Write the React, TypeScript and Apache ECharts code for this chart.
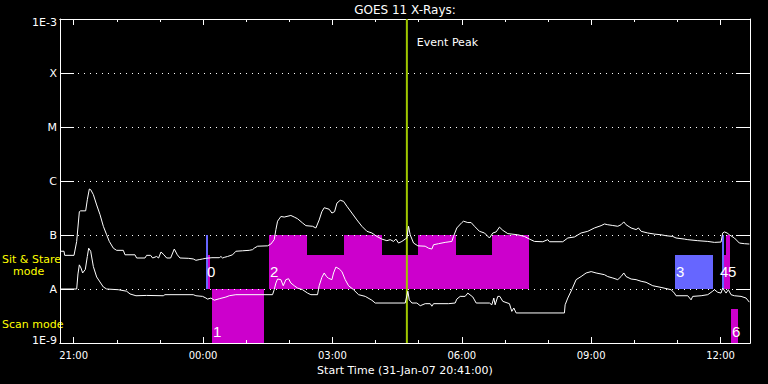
import React, { useEffect, useRef } from 'react';
import * as echarts from 'echarts';

// ---- time base: minutes since 31-Jan-07 20:41:00 ----
const START_CLOCK_MIN = 20 * 60 + 41;
const RANGE_MIN = 960;

// GOES 11 long channel (1-8 A): times (min) and flux (W/m^2)
const longT = [
  0, 5.6, 6.5, 19.5, 23.2, 26.9, 28.7, 35.7, 38.0, 40.8, 42.7, 46.4, 51.0, 55.6, 60.3, 64.9, 68.6, 74.2, 78.8, 88.1,
  90.4, 104.3, 106.6, 118.2, 120.5, 126.1, 128.9, 134.4, 137.2, 140.5, 144.6, 148.4, 153.9, 159.0, 163.2, 166.9, 178.5, 185.4,
  189.1, 193.7, 198.4, 203.0, 211.4, 221.6, 223.9, 226.2, 228.5, 233.1, 240.1, 244.7, 254.0, 263.3, 267.9, 270.2, 274.9,
  288.8, 293.4, 298.0, 300.4, 302.7, 307.3, 312.0, 321.2, 325.9, 330.5, 337.5, 342.1, 351.4, 356.0, 360.6, 364.3, 367.6, 374.5,
  378.3, 382.0, 385.3, 389.9, 394.5, 399.2, 406.1, 413.1, 420.0, 427.0, 433.9, 440.9, 447.8, 454.8, 459.4, 464.1, 467.3,
  471.0, 475.7, 480.3, 482.6, 484.9, 487.2, 491.9, 497.9, 508.1, 512.7, 517.4, 519.7, 526.6, 535.9, 545.2, 547.5, 552.1,
  559.1, 561.4, 567.4, 572.0, 576.7, 583.6, 590.6, 597.5, 602.2, 606.8, 611.4, 616.1, 623.0, 636.9, 646.2, 653.2, 660.1,
  671.7, 678.7, 681.0, 699.5, 706.5, 715.8, 725.0, 734.3, 743.6, 752.8, 757.5, 762.1, 769.1, 776.0, 780.6, 784.4, 787.6,
  794.6, 801.5, 804.8, 808.5, 817.7, 827.0, 836.3, 843.2, 852.5, 857.1, 868.7, 873.4, 887.3, 901.2, 910.5, 919.7, 922.0,
  924.4, 928.1, 931.3, 938.3, 945.2, 952.2, 959.1,
];
const longF = [
  5.0e-8, 5.0e-8, 4.2e-8, 4.2e-8, 7.6e-8, 2.7e-7, 2.8e-7, 2.8e-7, 4.5e-7, 7.1e-7, 6.9e-7, 5.6e-7, 3.6e-7, 2.4e-7, 1.45e-7, 1.01e-7, 7.6e-8, 5.7e-8, 5.2e-8, 5.2e-8,
  4.3e-8, 4.3e-8, 3.75e-8, 3.75e-8, 4.2e-8, 4.2e-8, 3.75e-8, 4.0e-8, 3.75e-8, 4.85e-8, 4.3e-8, 3.75e-8, 3.75e-8, 5.5e-8, 4.3e-8, 3.75e-8, 3.7e-8, 3.6e-8,
  3.4e-8, 3.5e-8, 3.6e-8, 3.7e-8, 3.8e-8, 3.8e-8, 4.0e-8, 3.75e-8, 3.85e-8, 4.0e-8, 4.3e-8, 5.0e-8, 5.1e-8, 5.2e-8, 5.35e-8, 5.7e-8, 6.2e-8,
  6.3e-8, 6.8e-8, 8.2e-8, 1.26e-7, 1.8e-7, 2.2e-7, 2.15e-7, 2.3e-7, 2.15e-7, 2.0e-7, 1.67e-7, 1.49e-7, 1.45e-7, 1.35e-7, 1.9e-7, 2.7e-7, 3.2e-7, 3.0e-7,
  2.55e-7, 2.7e-7, 3.9e-7, 4.4e-7, 4.2e-7, 3.4e-7, 2.55e-7, 1.9e-7, 1.45e-7, 1.17e-7, 1.09e-7, 9.4e-8, 8.4e-8, 7.85e-8, 8.2e-8, 7.6e-8, 8.4e-8,
  7.1e-8, 7.6e-8, 8.4e-8, 8.8e-8, 1.45e-7, 1.01e-7, 7.1e-8, 6.3e-8, 6.2e-8, 5.7e-8, 5.5e-8, 6.6e-8, 6.9e-8, 7.3e-8, 7.6e-8, 9.4e-8, 1.35e-7,
  1.7e-7, 1.8e-7, 1.7e-7, 1.7e-7, 1.45e-7, 1.17e-7, 1.09e-7, 8.8e-8, 1.09e-7, 1.14e-7, 1.4e-7, 1.22e-7, 1.06e-7, 1.01e-7, 9.4e-8, 8.4e-8, 7.6e-8,
  7.5e-8, 8.2e-8, 7.5e-8, 7.5e-8, 8.8e-8, 9.2e-8, 1.09e-7, 1.17e-7, 1.35e-7, 1.49e-7, 1.6e-7, 1.55e-7, 1.5e-7, 1.45e-7, 1.55e-7, 1.75e-7, 1.55e-7,
  1.35e-7, 1.26e-7, 1.35e-7, 1.17e-7, 1.09e-7, 1.04e-7, 1.01e-7, 9.7e-8, 9.4e-8, 8.8e-8, 8.4e-8, 8.2e-8, 7.85e-8, 7.6e-8, 7.3e-8, 7.4e-8, 1.09e-7,
  1.14e-7, 1.09e-7, 1.01e-7, 8.8e-8, 7.1e-8, 6.9e-8, 6.8e-8,
];

// GOES 11 short channel (0.5-4 A)
const shortT = [
  0, 23.2, 25.0, 26.9, 29.2, 31.5, 35.2, 38.0, 39.9, 42.7, 46.4, 51.0, 55.6, 60.3, 64.9, 81.1, 92.7, 97.4, 105.7, 120.5,
  143.7, 146.0, 185.4, 189.1, 198.4, 203.0, 205.3, 210.0, 214.6, 221.6, 230.8, 235.5, 244.7, 295.7, 298.0, 300.4, 302.7,
  307.3, 310.6, 314.3, 318.0, 321.2, 325.9, 330.5, 337.5, 344.4, 349.0, 358.3, 360.6, 364.3, 367.6, 370.8, 373.6,
  378.3, 380.6, 383.9, 388.5, 392.2, 396.8, 401.5, 408.4, 415.4, 424.7, 433.9, 438.6, 480.3, 484.0, 485.9, 489.6, 496.5,
  501.2, 508.1, 515.1, 517.4, 519.7, 540.6, 549.8, 552.1, 556.8, 563.7, 567.4, 574.4, 579.0, 597.5, 600.8, 603.6, 605.4,
  609.1, 611.9, 616.1, 625.3, 628.6, 631.4, 634.6, 701.8, 702.8, 706.5, 712.0, 718.1, 725.0, 732.0, 739.0, 745.9, 757.5,
  762.1, 769.1, 776.0, 780.6, 784.4, 787.6, 794.6, 801.5, 808.5, 815.4, 824.7, 836.3, 850.2, 854.8, 857.1, 873.4, 878.0,
  880.3, 892.0, 901.2, 908.1, 910.5, 915.1, 919.7, 922.0, 926.7, 929.9, 933.6, 938.3, 947.5, 954.5, 959.1,
];
const shortF = [
  1.0e-8, 1.0e-8, 1.9e-8, 2.8e-8, 2.45e-8, 1.98e-8, 2.3e-8, 4.0e-8, 5.7e-8, 5.0e-8, 2.6e-8, 1.67e-8, 1.35e-8, 1.09e-8, 1.0e-8, 9.7e-9, 9.1e-9, 8.1e-9, 7.5e-9, 7.6e-9,
  7.5e-9, 7.85e-9, 7.85e-9, 7.5e-9, 7.3e-9, 6.8e-9, 6.5e-9, 6.8e-9, 6.2e-9, 6.6e-9, 7.1e-9, 7.5e-9, 7.85e-9, 7.85e-9, 9.7e-9, 1.29e-8, 1.53e-8,
  1.49e-8, 1.15e-8, 1.49e-8, 1.55e-8, 1.29e-8, 1.15e-8, 1.04e-8, 9.7e-9, 8.4e-9, 7.85e-9, 7.85e-9, 1.15e-8, 1.64e-8, 1.98e-8, 1.7e-8, 1.58e-8,
  1.49e-8, 1.98e-8, 2.55e-8, 2.35e-8, 2.1e-8, 1.49e-8, 1.15e-8, 9.7e-9, 7.85e-9, 7.3e-9, 6.2e-9, 5.5e-9, 5.5e-9, 9.1e-9, 6.3e-9, 5.5e-9, 5.5e-9,
  4.9e-9, 5.35e-9, 5.35e-9, 4.8e-9, 5.35e-9, 5.35e-9, 5.5e-9, 6.5e-9, 7.3e-9, 7.3e-9, 8.4e-9, 7.1e-9, 5.5e-9, 5.5e-9, 5.1e-9, 6.8e-9, 5.1e-9,
  7.3e-9, 7.3e-9, 5.9e-9, 5.35e-9, 3.85e-9, 4.45e-9, 3.6e-9, 3.6e-9, 5.1e-9, 6.8e-9, 9.7e-9, 1.49e-8, 1.7e-8, 1.98e-8, 2.1e-8, 1.98e-8, 1.84e-8,
  1.7e-8, 1.6e-8, 1.49e-8, 1.7e-8, 1.98e-8, 1.7e-8, 1.53e-8, 1.49e-8, 1.39e-8, 1.33e-8, 1.15e-8, 1.07e-8, 9.7e-9, 8.4e-9, 7.5e-9, 7.5e-9, 6.3e-9,
  7.3e-9, 7.5e-9, 7.85e-9, 9.1e-9, 9.7e-9, 8.7e-9, 8.4e-9, 1.04e-8, 8.4e-9, 9.7e-9, 7.85e-9, 7.5e-9, 7.3e-9, 6.8e-9, 5.7e-9,
];

// axis ticks
const yTickLabels = ['1E-9', 'A', 'B', 'C', 'M', 'X', '1E-3'];
const xLabelTimes = [19, 199, 379, 559, 739, 919];
const xHourTimes = [19, 79, 139, 199, 259, 319, 379, 439, 499, 559, 619, 679, 739, 799, 859, 919];

// observation segments (minutes since start)
const segStart = [203.0, 205.8, 211.4, 290.7, 290.7, 395.0, 497.9, 600.8, 855.3, 920.6, 923.4, 926.2, 933.2];
const segEnd = [205.8, 208.6, 283.7, 653.2, 343.5, 447.8, 550.7, 653.2, 908.1, 923.4, 931.8, 931.8, 942.9];
const segLane = ['stare', 'stare', 'scan', 'stare', 'stare', 'stare', 'stare', 'stare', 'stare', 'stare', 'stare', 'stare', 'scan'];
const segFull = [true, false, true, false, true, true, true, true, false, true, false, true, false];
const segKind = ['b', 'm', 'm', 'm', 'm', 'm', 'm', 'm', 'b', 'b', 'm', 'm', 'm'];

const obsNames = ['0', '1', '2', '3', '4', '5', '6'];
const obsStart = [203.0, 211.4, 290.7, 855.3, 920.6, 923.4, 933.2];
const obsLane = ['stare', 'scan', 'stare', 'stare', 'stare', 'stare', 'scan'];
const obsLabelDx = [1, 1, 1, 1, -2, 4, 1];

const eventPeakT = 482.6;

const LANES: Record<string, { low: number; high: number; part: number; label: number }> = {
  stare: { low: 1e-8, high: 1e-7, part: 4.2e-8, label: 2.1e-8 },
  scan: { low: 1e-9, high: 1e-8, part: 4.2e-9, label: 1.63e-9 },
};
const KIND_COLOR: Record<string, string> = { b: '#6666ff', m: '#cc00cc' };

const FONT = 'DejaVu Sans';
const pad2 = (n: number) => String(n).padStart(2, '0');
const fmtTime = (v: number) => {
  const t = (START_CLOCK_MIN + Math.round(v)) % 1440;
  return `${pad2(Math.floor(t / 60))}:${pad2(t % 60)}`;
};
const fmtFlux = (v: number) => {
  const i = Math.round(Math.log10(v)) + 9;
  const s = yTickLabels[i] ?? '';
  if (i === 6) return `{top|${s}}`;
  if (i === 0) return `{bot|${s}}`;
  return s;
};

const makeXAxis = (position: string, len: number, ticks: number[], withLabels: boolean) => ({
  type: 'value',
  position,
  min: 0,
  max: RANGE_MIN,
  splitLine: { show: false },
  axisLine: { show: true, onZero: false, lineStyle: { color: '#ffffff', width: 1 } },
  axisTick: { show: true, inside: true, length: len, customValues: ticks, lineStyle: { color: '#ffffff', width: 1 } },
  axisLabel: withLabels
    ? { show: true, customValues: ticks, formatter: fmtTime, color: '#ffffff', fontSize: 10, fontFamily: FONT, margin: 7 }
    : { show: false },
  ...(withLabels
    ? {
        name: 'Start Time (31-Jan-07 20:41:00)',
        nameLocation: 'middle',
        nameGap: 19,
        nameTextStyle: { color: '#ffffff', fontSize: 11, fontFamily: FONT },
      }
    : {}),
});

const makeYAxis = (position: string, withLabels: boolean) => ({
  type: 'log',
  logBase: 10,
  position,
  min: 1e-9,
  max: 1e-3,
  axisLine: { show: true, onZero: false, lineStyle: { color: '#ffffff', width: 1 } },
  axisTick: { show: true, inside: true, length: 14, lineStyle: { color: '#ffffff', width: 1 } },
  axisLabel: withLabels
    ? {
        show: true,
        color: '#ffffff',
        fontSize: 11,
        fontFamily: FONT,
        margin: 3,
        formatter: fmtFlux,
        rich: {
          top: { color: '#ffffff', fontSize: 11, fontFamily: FONT, padding: [7, 0, 0, 0] },
          bot: { color: '#ffffff', fontSize: 11, fontFamily: FONT, padding: [0, 0, 6, 0] },
        },
      }
    : { show: false },
  splitLine: withLabels
    ? { show: true, lineStyle: { color: '#ffffff', width: 1, type: [1, 5] } }
    : { show: false },
});

export default function App() {
  const ref = useRef<HTMLDivElement>(null);
  useEffect(() => {
    if (!ref.current) return;
    const chart = echarts.init(ref.current, undefined, { renderer: 'svg' });

    const boxData = segStart.map((s, i) => {
      const lane = LANES[segLane[i]];
      return [s, segEnd[i], lane.low, segFull[i] ? lane.high : lane.part];
    });
    const labelData = obsStart.map((t, i) => [t, LANES[obsLane[i]].label]);

    const lineSeries = (t: number[], f: number[]) => ({
      type: 'line',
      data: t.map((x, i) => [x, f[i]]),
      showSymbol: false,
      symbol: 'none',
      lineStyle: { color: '#ffffff', width: 1 },
      z: 3,
    });

    chart.setOption({
      animation: false,
      backgroundColor: '#000000',
      grid: { left: 60, top: 19, width: 690, height: 324, outerBoundsMode: 'none', containLabel: false },
      xAxis: [
        makeXAxis('bottom', 6, xLabelTimes, true),
        makeXAxis('bottom', 3, xHourTimes, false),
        makeXAxis('top', 6, xLabelTimes, false),
        makeXAxis('top', 3, xHourTimes, false),
      ],
      yAxis: [makeYAxis('left', true), makeYAxis('right', false)],
      graphic: [
        {
          type: 'text', x: 405, y: 10,
          style: { text: 'GOES 11 X-Rays:', fill: '#fff', font: `12px "${FONT}"`, align: 'center', verticalAlign: 'middle' },
        },
        {
          type: 'text', x: 2, y: 259, z: 10,
          style: { text: 'Sit & Stare', fill: '#ffff00', font: `11px "${FONT}"`, align: 'left', verticalAlign: 'middle' },
        },
        {
          type: 'text', x: 13, y: 271,
          style: { text: 'mode', fill: '#ffff00', font: `11px "${FONT}"`, align: 'left', verticalAlign: 'middle' },
        },
        {
          type: 'text', x: 2, y: 324,
          style: { text: 'Scan mode', fill: '#ffff00', font: `11px "${FONT}"`, align: 'left', verticalAlign: 'middle' },
        },
      ],
      series: [
        {
          type: 'custom',
          z: -1,
          encode: { x: [0, 1], y: [2, 3] },
          data: boxData,
          renderItem: (params: any, api: any) => {
            const a = api.coord([api.value(0), api.value(3)]);
            const b = api.coord([api.value(1), api.value(2)]);
            const x0 = Math.round(a[0]);
            const x1 = Math.round(b[0]);
            const y0 = Math.round(a[1]);
            const y1 = Math.round(b[1]);
            return {
              type: 'rect',
              shape: { x: x0, y: y0, width: x1 - x0, height: y1 - y0 },
              style: { fill: KIND_COLOR[segKind[params.dataIndex]] },
            };
          },
        },
        {
          type: 'custom',
          z: 1,
          encode: { x: 0, y: 1 },
          data: labelData,
          renderItem: (params: any, api: any) => {
            const p = api.coord([api.value(0), api.value(1)]);
            return {
              type: 'text',
              x: Math.round(p[0]) + obsLabelDx[params.dataIndex],
              y: p[1],
              style: {
                text: obsNames[params.dataIndex],
                fill: '#fff',
                font: '15px "Liberation Sans"',
                align: 'left',
                verticalAlign: 'middle',
                textAlign: 'left',
                textVerticalAlign: 'middle',
              },
            };
          },
        },
        {
          type: 'custom',
          z: 2,
          encode: { x: 0, y: 1 },
          data: [[eventPeakT, 1e-6]],
          renderItem: (params: any, api: any) => {
            const top = api.coord([api.value(0), 1e-3]);
            const bot = api.coord([api.value(0), 1e-9]);
            const lab = api.coord([api.value(0), 3.75e-4]);
            return {
              type: 'group',
              children: [
                {
                  type: 'line',
                  shape: { x1: top[0], y1: top[1], x2: bot[0], y2: bot[1] },
                  style: { stroke: '#a0c800', lineWidth: 2 },
                },
                {
                  type: 'text',
                  x: top[0] + 10,
                  y: lab[1],
                  style: {
                    text: 'Event Peak', fill: '#fff', font: `11px "${FONT}"`,
                    align: 'left', verticalAlign: 'middle', textAlign: 'left', textVerticalAlign: 'middle',
                  },
                },
              ],
            };
          },
        },
        lineSeries(longT, longF),
        lineSeries(shortT, shortF),
      ],
    } as any);

    return () => chart.dispose();
  }, []);

  return (
    <div
      ref={ref}
      style={{ position: 'absolute', left: 0, top: 0, width: 768, height: 384, background: '#000' }}
    />
  );
}
